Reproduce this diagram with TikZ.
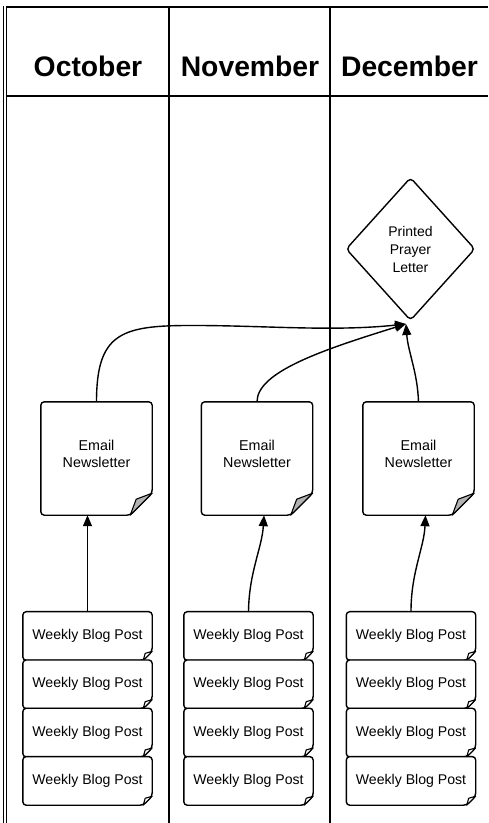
\documentclass[tikz,border=0pt]{standalone}
\usepackage{fontspec}
\setmainfont{Liberation Sans}
\usetikzlibrary{arrows.meta,backgrounds}
\newcommand\docshape[4]{% node, fold size, inner fold offset, fold fill
  \draw[boxline, fill=white, rounded corners=3.5pt] (#1.north west) -- (#1.north east) -- ([yshift=#2]#1.south east) -- ([xshift=-#2]#1.south east) -- (#1.south west) -- cycle;
  \draw[foldline, fill=#4, line join=round] ([xshift=-#2]#1.south east) -- ([xshift=-#3,yshift=#3]#1.south east) -- ([yshift=#2]#1.south east) -- cycle;
}
\begin{document}
\begin{tikzpicture}[x=1pt,y=-1pt,
  lane/.style={line width=2pt},
  thinlane/.style={line width=1.3pt},
  boxline/.style={line width=1.4pt},
  foldline/.style={line width=1.1pt},
  hdr/.style={font=\fontsize{28.3}{30}\selectfont\bfseries, anchor=base, inner sep=0pt},
  emailbox/.style={minimum width=111pt, minimum height=113pt, inner sep=0pt},
  emailtext/.style={font=\fontsize{14.3}{17.5}\selectfont, align=center, inner sep=0pt},
  blogbox/.style={minimum width=129pt, minimum height=48.3pt, inner sep=0pt, font=\fontsize{14.1}{16}\selectfont},
  diabox/.style={minimum width=128pt, minimum height=142pt, inner sep=0pt, font=\fontsize{14}{18}\selectfont, align=center},
  conn/.style={line width=1.4pt, -{Triangle[length=11pt,width=9pt]}},
]
\useasboundingbox (0,0) rectangle (488,823);
% lanes
\draw[thinlane] (3.8,6) -- (3.8,823);
\draw[thinlane] (6.4,6) -- (6.4,823);
\draw[lane] (5.8,6.8) -- (488,6.8);
\draw[lane] (5.8,95.5) -- (488,95.5);
\draw[lane] (169,6) -- (169,823);
\draw[lane] (330,6) -- (330,823);
% headers
\node[hdr] (h1) at (88,76.5) {October};
\node[hdr] (h2) at (250,76.5) {November};
\node[hdr] (h3) at (409.5,76.5) {December};
% diamond
\node[diabox] (dia) at (410.5,249) {Printed\\Prayer\\Letter};
\draw[boxline, rounded corners=4pt] (dia.north) -- (dia.east) -- (dia.south) -- (dia.west) -- cycle;
\coordinate (tip) at (406,324);
% email boxes
\node[emailbox] (e1) at (96.5,458.5) {};
\node[emailbox] (e2) at (257,458.5) {};
\node[emailbox] (e3) at (418.5,458.5) {};
\node[emailtext] (t1) at (96.5,454) {Email\\Newsletter};
\node[emailtext] (t2) at (257,454) {Email\\Newsletter};
\node[emailtext] (t3) at (418.5,454) {Email\\Newsletter};
% blog posts
\foreach \c/\x in {1/87.5, 2/248.5, 3/411} {
  \node[blogbox] (b\c a) at (\x,636) {Weekly Blog Post};
  \node[blogbox] (b\c b) at (\x,684.3) {Weekly Blog Post};
  \node[blogbox] (b\c c) at (\x,732.6) {Weekly Blog Post};
  \node[blogbox] (b\c d) at (\x,780.9) {Weekly Blog Post};
}
\begin{scope}[on background layer]
  \docshape{e1}{22pt}{16pt}{gray!60}
  \docshape{e2}{22pt}{16pt}{gray!60}
  \docshape{e3}{22pt}{16pt}{gray!60}
  \foreach \c in {1,2,3} {
    \foreach \r in {a,b,c,d} {
      \docshape{b\c\r}{9pt}{7pt}{white}
    }
  }
\end{scope}
% connectors to the letter
\draw[conn] (e1.north) .. controls (96.5,335) and (120,326) .. (185,325.5) .. controls (260,325) and (330,332) .. (tip);
\draw[conn] (e2.north) .. controls (257,372) and (322,350) .. (tip);
\draw[conn] (e3.north) .. controls (417.5,372) and (408,352) .. (tip);
% blog to email
\draw[conn] (b1a.north) -- (b1a.north |- e1.south);
\draw[conn] (b2a.north) .. controls (249,572) and (262,548) .. ([xshift=7pt]e2.south);
\draw[conn] (b3a.north) .. controls (411,572) and (424,548) .. ([xshift=7pt]e3.south);
\end{tikzpicture}
\end{document}
